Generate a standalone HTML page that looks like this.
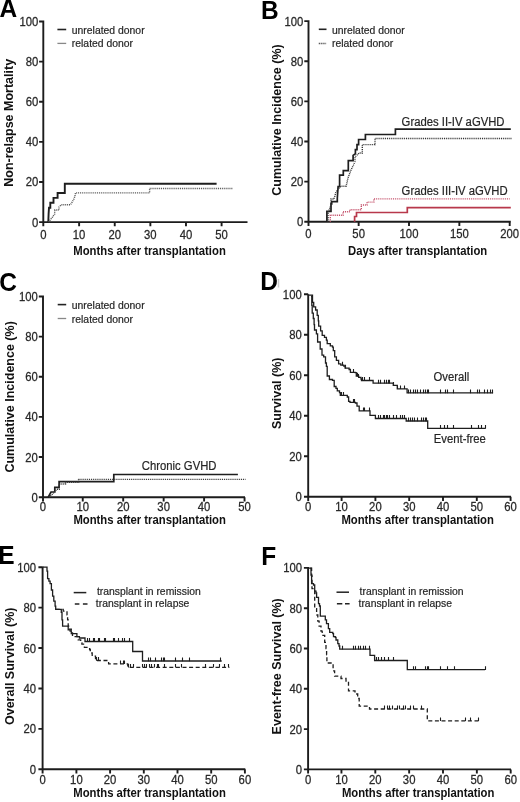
<!DOCTYPE html>
<html><head><meta charset="utf-8"><style>
html,body{margin:0;padding:0;background:#fff;}
svg{display:block;will-change:transform;}
text{font-family:"Liberation Sans", sans-serif;fill:#222;}
.pl{font-size:24.5px;font-weight:bold;fill:#000;}
.tk{font-size:11.3px;stroke:#333;stroke-width:0.25px;}
.yt{font-size:12.5px;font-weight:bold;fill:#111;}
.xt{font-size:11.3px;font-weight:bold;fill:#111;}
.lg{font-size:10.4px;stroke:#333;stroke-width:0.2px;}
.an{font-size:11.3px;stroke:#333;stroke-width:0.2px;}
</style></head><body>
<svg width="520" height="802" viewBox="0 0 520 802">
<rect width="520" height="802" fill="#fff"/>
<text transform="translate(-0.5,17) scale(1,1.055)" class="pl">A</text>
<text transform="translate(261,18.5) scale(1,1.055)" class="pl">B</text>
<text transform="translate(-0.7,291) scale(1,1.055)" class="pl">C</text>
<text transform="translate(260.3,290) scale(1,1.055)" class="pl">D</text>
<text transform="translate(-1.8,563.5) scale(1,1.055)" class="pl">E</text>
<text transform="translate(261.3,564.7) scale(1,1.055)" class="pl">F</text>
<rect x="277.8" y="279" width="1.4" height="8.5" fill="#999" opacity="0.5"/>
<path d="M43.3,20.4V226.3 M39.1,222.1H247.5 M39.1,222.1H43.3 M39.1,181.98H43.3 M39.1,141.86H43.3 M39.1,101.74H43.3 M39.1,61.62H43.3 M39.1,21.5H43.3 M43.3,222.1V226.3 M79.12,222.1V226.3 M114.74,222.1V226.3 M150.36,222.1V226.3 M185.98,222.1V226.3 M221.6,222.1V226.3" stroke="#1c1c1c" stroke-width="1.9" fill="none"/>
<text transform="translate(38.3,226.6) scale(1,1.08)" text-anchor="end" class="tk">0</text>
<text transform="translate(38.3,186.48) scale(1,1.08)" text-anchor="end" class="tk">20</text>
<text transform="translate(38.3,146.36) scale(1,1.08)" text-anchor="end" class="tk">40</text>
<text transform="translate(38.3,106.24) scale(1,1.08)" text-anchor="end" class="tk">60</text>
<text transform="translate(38.3,66.12) scale(1,1.08)" text-anchor="end" class="tk">80</text>
<text transform="translate(38.3,26) scale(1,1.08)" text-anchor="end" class="tk">100</text>
<text transform="translate(43.3,238.8) scale(1,1.08)" text-anchor="middle" class="tk">0</text>
<text transform="translate(79.12,238.8) scale(1,1.08)" text-anchor="middle" class="tk">10</text>
<text transform="translate(114.74,238.8) scale(1,1.08)" text-anchor="middle" class="tk">20</text>
<text transform="translate(150.36,238.8) scale(1,1.08)" text-anchor="middle" class="tk">30</text>
<text transform="translate(185.98,238.8) scale(1,1.08)" text-anchor="middle" class="tk">40</text>
<text transform="translate(221.6,238.8) scale(1,1.08)" text-anchor="middle" class="tk">50</text>
<text transform="translate(13,122.8) rotate(-90)" text-anchor="middle" class="yt">Non-relapse Mortality</text>
<text transform="translate(73.3,255.1) scale(1,1.06)" class="xt" textLength="152.5" lengthAdjust="spacingAndGlyphs">Months after transplantation</text>
<path d="M57.4,29.5H66.2" stroke="#222" stroke-width="1.6"/>
<path d="M57.4,43.4H66.2" stroke="#888" stroke-width="1.3"/>
<text transform="translate(71.8,33.6) scale(1,1.05)" class="lg">unrelated donor</text>
<text transform="translate(71.8,47.3) scale(1,1.05)" class="lg">related donor</text>
<path d="M48.3,222.1L48.6,214L49,207.7H50.3V202.8H53.5V197.9H57.6V193H64.8V183.8H216.6" stroke="#1e1e1e" stroke-width="1.9" fill="none"/>
<path d="M48.6,222.1L50.5,219.5L52.5,217L54.7,214V210H59V207.1L61.3,204.8H70.5L72,202.3L73.8,199.2L75,196L75.5,192.9H149.6V188.5H232.8" stroke="#555" stroke-width="1.4" stroke-dasharray="1,0.9" fill="none"/>
<path d="M308.5,20.2V225.9 M304.3,221.7H510.8 M304.3,221.7H308.5 M304.3,181.58H308.5 M304.3,141.46H308.5 M304.3,101.34H308.5 M304.3,61.22H308.5 M304.3,21.1H308.5 M308.5,221.7V225.9 M358.65,221.7V225.9 M409,221.7V225.9 M459.35,221.7V225.9 M509.7,221.7V225.9" stroke="#1c1c1c" stroke-width="1.9" fill="none"/>
<text transform="translate(303.3,226.2) scale(1,1.08)" text-anchor="end" class="tk">0</text>
<text transform="translate(303.3,186.08) scale(1,1.08)" text-anchor="end" class="tk">20</text>
<text transform="translate(303.3,145.96) scale(1,1.08)" text-anchor="end" class="tk">40</text>
<text transform="translate(303.3,105.84) scale(1,1.08)" text-anchor="end" class="tk">60</text>
<text transform="translate(303.3,65.72) scale(1,1.08)" text-anchor="end" class="tk">80</text>
<text transform="translate(303.3,25.6) scale(1,1.08)" text-anchor="end" class="tk">100</text>
<text transform="translate(308.5,238.4) scale(1,1.08)" text-anchor="middle" class="tk">0</text>
<text transform="translate(358.65,238.4) scale(1,1.08)" text-anchor="middle" class="tk">50</text>
<text transform="translate(409,238.4) scale(1,1.08)" text-anchor="middle" class="tk">100</text>
<text transform="translate(459.35,238.4) scale(1,1.08)" text-anchor="middle" class="tk">150</text>
<text transform="translate(509.7,238.4) scale(1,1.08)" text-anchor="middle" class="tk">200</text>
<text transform="translate(280.6,120) rotate(-90)" text-anchor="middle" class="yt">Cumulative Incidence (%)</text>
<text transform="translate(348,254.8) scale(1,1.06)" class="xt" textLength="139.2" lengthAdjust="spacingAndGlyphs">Days after transplantation</text>
<path d="M318.8,29.3H326.5" stroke="#222" stroke-width="1.6"/>
<path d="M318.8,43.5H326.5" stroke="#333" stroke-width="1.4" stroke-dasharray="1,0.9"/>
<text transform="translate(332,33.5) scale(1,1.05)" class="lg">unrelated donor</text>
<text transform="translate(332,47.4) scale(1,1.05)" class="lg">related donor</text>
<path d="M326.9,221.7V211.4H331V203.9H331.7V201.6H337.3V198.3L338.1,186.7H339.6V175.1H343.3V170.6H348.3V160.6H353.1V155.4L355.4,153.8V149.6H357V144.6H358.6V139.5H365.4V134.5H395.4V129.2H510.8" stroke="#1e1e1e" stroke-width="1.7" fill="none"/>
<path d="M328,221.7V213L331,205V199H334L336,192L338,189L340.8,186.2H346.2L348,178L351,170L353.5,165L355,161.5V157L359.2,153H362.3V144.6H375V138.5H512" stroke="#333" stroke-width="1.4" stroke-dasharray="1,0.9" fill="none"/>
<path d="M354.6,221.7V216.5H356.5V212.5H407.3V207.6H510.8" stroke="#b8384b" stroke-width="1.7" fill="none"/>
<path d="M330.3,221.7V215.2H343V211.7H349.8V209.8H361.3V205H367V202.1H373.8V198.9H509.7" stroke="#c4506a" stroke-width="1.4" stroke-dasharray="1,0.9" fill="none"/>
<text transform="translate(401.6,126.2) scale(1,1.05)" class="an">Grades II-IV aGVHD</text>
<text transform="translate(401.6,194.6) scale(1,1.05)" class="an">Grades III-IV aGVHD</text>
<path d="M43,295.4V501.4 M38.8,497.2H245 M38.8,497.2H43 M38.8,457.06H43 M38.8,416.92H43 M38.8,376.78H43 M38.8,336.64H43 M38.8,296.5H43 M43,497.2V501.4 M82.75,497.2V501.4 M123.2,497.2V501.4 M163.65,497.2V501.4 M204.1,497.2V501.4 M244.55,497.2V501.4" stroke="#1c1c1c" stroke-width="1.9" fill="none"/>
<text transform="translate(37.9,501.7) scale(1,1.08)" text-anchor="end" class="tk">0</text>
<text transform="translate(37.9,461.56) scale(1,1.08)" text-anchor="end" class="tk">20</text>
<text transform="translate(37.9,421.42) scale(1,1.08)" text-anchor="end" class="tk">40</text>
<text transform="translate(37.9,381.28) scale(1,1.08)" text-anchor="end" class="tk">60</text>
<text transform="translate(37.9,341.14) scale(1,1.08)" text-anchor="end" class="tk">80</text>
<text transform="translate(37.9,301) scale(1,1.08)" text-anchor="end" class="tk">100</text>
<text transform="translate(43,511.2) scale(1,1.08)" text-anchor="middle" class="tk">0</text>
<text transform="translate(82.75,511.2) scale(1,1.08)" text-anchor="middle" class="tk">10</text>
<text transform="translate(123.2,511.2) scale(1,1.08)" text-anchor="middle" class="tk">20</text>
<text transform="translate(163.65,511.2) scale(1,1.08)" text-anchor="middle" class="tk">30</text>
<text transform="translate(204.1,511.2) scale(1,1.08)" text-anchor="middle" class="tk">40</text>
<text transform="translate(244.55,511.2) scale(1,1.08)" text-anchor="middle" class="tk">50</text>
<text transform="translate(14.3,396.9) rotate(-90)" text-anchor="middle" class="yt">Cumulative Incidence (%)</text>
<text transform="translate(73.4,524.2) scale(1,1.06)" class="xt" textLength="152.5" lengthAdjust="spacingAndGlyphs">Months after transplantation</text>
<path d="M57.7,304.6H66.2" stroke="#222" stroke-width="1.6"/>
<path d="M57.7,318.5H66.2" stroke="#888" stroke-width="1.3"/>
<text transform="translate(71.8,308.7) scale(1,1.05)" class="lg">unrelated donor</text>
<text transform="translate(71.8,322.5) scale(1,1.05)" class="lg">related donor</text>
<path d="M48.2,497.2L51,492H54.8V487.3H59.1V481.7H113.8V474.5H237.9" stroke="#1e1e1e" stroke-width="1.7" fill="none"/>
<path d="M49,497.2L53.2,493.4L55,491L57,489.2H59.2V484H65.5V482.2H78.6V479.4H245.5" stroke="#333" stroke-width="1.4" stroke-dasharray="1,0.9" fill="none"/>
<text transform="translate(141.8,470) scale(1,1.05)" class="an">Chronic GVHD</text>
<path d="M308.2,294.3V501 M304,496.8H511 M304,496.8H308.2 M304,456.3H308.2 M304,415.8H308.2 M304,375.3H308.2 M304,334.8H308.2 M304,294.3H308.2 M308.2,496.8V501 M341.6,496.8V501 M375.4,496.8V501 M409.2,496.8V501 M443,496.8V501 M476.8,496.8V501 M510.6,496.8V501" stroke="#1c1c1c" stroke-width="1.9" fill="none"/>
<text transform="translate(301.7,501.3) scale(1,1.08)" text-anchor="end" class="tk">0</text>
<text transform="translate(301.7,460.8) scale(1,1.08)" text-anchor="end" class="tk">20</text>
<text transform="translate(301.7,420.3) scale(1,1.08)" text-anchor="end" class="tk">40</text>
<text transform="translate(301.7,379.8) scale(1,1.08)" text-anchor="end" class="tk">60</text>
<text transform="translate(301.7,339.3) scale(1,1.08)" text-anchor="end" class="tk">80</text>
<text transform="translate(301.7,298.8) scale(1,1.08)" text-anchor="end" class="tk">100</text>
<text transform="translate(308.2,511) scale(1,1.08)" text-anchor="middle" class="tk">0</text>
<text transform="translate(341.6,511) scale(1,1.08)" text-anchor="middle" class="tk">10</text>
<text transform="translate(375.4,511) scale(1,1.08)" text-anchor="middle" class="tk">20</text>
<text transform="translate(409.2,511) scale(1,1.08)" text-anchor="middle" class="tk">30</text>
<text transform="translate(443,511) scale(1,1.08)" text-anchor="middle" class="tk">40</text>
<text transform="translate(476.8,511) scale(1,1.08)" text-anchor="middle" class="tk">50</text>
<text transform="translate(510.6,511) scale(1,1.08)" text-anchor="middle" class="tk">60</text>
<text transform="translate(281,393.3) rotate(-90)" text-anchor="middle" class="yt">Survival (%)</text>
<text transform="translate(341.4,524.2) scale(1,1.06)" class="xt" textLength="152.5" lengthAdjust="spacingAndGlyphs">Months after transplantation</text>
<path d="M308.2,295.2H311.4V295.2H312.5V302.3H313.7V306.9H315.6V310H317.2V315.4H318.3V320.8H318.7V326.2H320.6V330.8H322.2V335.4H324.5V337.4H326.4V340.2H327.2V343.7H330.3V345.9H332.5V347.2H333.3V350.7H334.7V356.8H336.4V360.3H338.6V363.8H340.8V365.1H343.8V366H345.1V368.2H349.1V369.5H350.4V372.4H355.2V372.7H356.3V376.1H358.7V377.3H361V379H361.5V380.5H373.1V380.5H373.1V383.1H390.4V383.1H393.3V385.4H397.3V385.4H397.3V388.8H407.1V388.8H407.1V392.9H493.1V392.9" stroke="#1e1e1e" stroke-width="1.3" fill="none"/>
<path d="M311,296.2H311.8V305.4H312.2V313.1H313.3V318.5H314.1V324.6H314.5V330H316.4V333.8H317.6V342H320.2V349H322V355.1H323.7V356.8H325.5V363H326.4V366.4H327.2V376H329.4V379.5H332.5V380.4H334.2V386.5H336V388.3H337.3V390.9H339.5V392.6H340.3V395.3H345.1V395.3H347.3V397H348.6V401.4H350V402.3H355.4V403H357V406.2H359.2V410.8H370V410.8H370V415.4H375.4V415.4H375.4V418.5H406.2V418.5H406.2V421H427.7V421H427.7V428.4H485.4V428.4" stroke="#1e1e1e" stroke-width="1.3" fill="none"/>
<path d="M342.5,365.4V361.7M345.5,368.5V364.8M353.5,372.7V369M357.5,376.4V372.7M358.5,377.6V373.9M362.5,380.8V377.1M364.5,380.8V377.1M369.5,380.8V377.1M378.5,383.4V379.7M380.5,383.4V379.7M384.5,383.4V379.7M386.5,383.4V379.7M388.5,383.4V379.7M389.5,383.4V379.7M393.5,385.7V382M397.5,389.1V385.4M400.5,389.1V385.4M404.5,389.1V385.4M408.5,393.2V389.5M410.5,393.2V389.5M413.5,393.2V389.5M415.5,393.2V389.5M417.5,393.2V389.5M420.5,393.2V389.5M423.5,393.2V389.5M425.5,393.2V389.5M427.5,393.2V389.5M428.5,393.2V389.5M440.5,393.2V389.5M445.5,393.2V389.5M447.5,393.2V389.5M453.5,393.2V389.5M470.5,393.2V389.5M477.5,393.2V389.5M479.5,393.2V389.5M484.5,393.2V389.5M487.5,393.2V389.5M490.5,393.2V389.5M492.5,393.2V389.5" stroke="#1e1e1e" stroke-width="1.1" fill="none"/>
<path d="M341.5,395.6V391.9M343.5,395.6V391.9M353.5,402.6V398.9M354.5,402.6V398.9M363.5,411.1V407.4M364.5,411.1V407.4M369.5,411.1V407.4M378.5,418.8V415.1M380.5,418.8V415.1M383.5,418.8V415.1M384.5,418.8V415.1M386.5,418.8V415.1M387.5,418.8V415.1M389.5,418.8V415.1M393.5,418.8V415.1M396.5,418.8V415.1M400.5,418.8V415.1M402.5,418.8V415.1M404.5,418.8V415.1M408.5,421.3V417.6M410.5,421.3V417.6M412.5,421.3V417.6M414.5,421.3V417.6M417.5,421.3V417.6M421.5,421.3V417.6M423.5,421.3V417.6M425.5,421.3V417.6M426.5,421.3V417.6M440.5,428.7V425M444.5,428.7V425M447.5,428.7V425M453.5,428.7V425M471.5,428.7V425M478.5,428.7V425M481.5,428.7V425M485.5,428.7V425" stroke="#1e1e1e" stroke-width="1.1" fill="none"/>
<text transform="translate(433.5,380.8) scale(1,1.05)" class="an">Overall</text>
<text transform="translate(433.8,442.7) scale(1,1.05)" class="an">Event-free</text>
<path d="M42.6,566.5V773.5 M38.4,769.3H245.3 M38.4,769.3H42.6 M38.4,728.88H42.6 M38.4,688.46H42.6 M38.4,648.04H42.6 M38.4,607.62H42.6 M38.4,567.2H42.6 M42.6,769.3V773.5 M76.4,769.3V773.5 M110.1,769.3V773.5 M143.8,769.3V773.5 M177.5,769.3V773.5 M211.2,769.3V773.5 M244.9,769.3V773.5" stroke="#1c1c1c" stroke-width="1.9" fill="none"/>
<text transform="translate(36.1,773.8) scale(1,1.08)" text-anchor="end" class="tk">0</text>
<text transform="translate(36.1,733.38) scale(1,1.08)" text-anchor="end" class="tk">20</text>
<text transform="translate(36.1,692.96) scale(1,1.08)" text-anchor="end" class="tk">40</text>
<text transform="translate(36.1,652.54) scale(1,1.08)" text-anchor="end" class="tk">60</text>
<text transform="translate(36.1,612.12) scale(1,1.08)" text-anchor="end" class="tk">80</text>
<text transform="translate(36.1,571.7) scale(1,1.08)" text-anchor="end" class="tk">100</text>
<text transform="translate(42.6,783.5) scale(1,1.08)" text-anchor="middle" class="tk">0</text>
<text transform="translate(76.4,783.5) scale(1,1.08)" text-anchor="middle" class="tk">10</text>
<text transform="translate(110.1,783.5) scale(1,1.08)" text-anchor="middle" class="tk">20</text>
<text transform="translate(143.8,783.5) scale(1,1.08)" text-anchor="middle" class="tk">30</text>
<text transform="translate(177.5,783.5) scale(1,1.08)" text-anchor="middle" class="tk">40</text>
<text transform="translate(211.2,783.5) scale(1,1.08)" text-anchor="middle" class="tk">50</text>
<text transform="translate(244.9,783.5) scale(1,1.08)" text-anchor="middle" class="tk">60</text>
<text transform="translate(13.6,666.3) rotate(-90)" text-anchor="middle" class="yt">Overall Survival (%)</text>
<text transform="translate(73.3,797) scale(1,1.06)" class="xt" textLength="152.5" lengthAdjust="spacingAndGlyphs">Months after transplantation</text>
<path d="M73.7,592.6H86.3" stroke="#222" stroke-width="1.5"/>
<path d="M74.8,603.9H79.4M82.9,603.9H87.5" stroke="#222" stroke-width="1.5"/>
<text transform="translate(96.9,595.2) scale(1,1.05)" class="lg">transplant in remission</text>
<text transform="translate(95.8,607.2) scale(1,1.05)" class="lg">transplant in relapse</text>
<path d="M42.9,567.2H46.4V567.2H47V571.2H47.6V578.7H48.9V581.2H50.1V583.7H51.4V590H52.6V596.2H53.8V601.2H55.1V606.1H55.7V609.3H60.7V609.3H61.3V612.4H62V619.9H62.6V626.1H67.6V626.1H68.2V629.8H70.1V631.1H71.3V633.6H75.7V633.6H76.9V636.7H79.4V638H85V638H85V641.5H132.7V641.5H132.7V651.5H142.5V651.5H142.5V661H221.7V661" stroke="#1e1e1e" stroke-width="1.3" fill="none"/>
<path d="M55.7,609.3H63.2V611.1H67V614.9H67.6V619.9H68.2V626.1H69.4V629.2H71.3V633H72.5V636.7H75.7V636.7H78.2V639.8H80.7V642.9H81.9V644.2H84.4V647.4H88.8V647.4H89.6V649.5H90.3V653H92.2V656.2H95.5V657.6H95.5V660.5H108.6V660.5H108.6V663.8H127.8V663.8H127.8V667.3H229.4V667.3" stroke="#1e1e1e" stroke-width="1.3" stroke-dasharray="4,2.6" fill="none"/>
<path d="M87.5,641.8V638.1M89.5,641.8V638.1M93.5,641.8V638.1M94.5,641.8V638.1M98.5,641.8V638.1M99.5,641.8V638.1M104.5,641.8V638.1M105.5,641.8V638.1M113.5,641.8V638.1M114.5,641.8V638.1M118.5,641.8V638.1M122.5,641.8V638.1M124.5,641.8V638.1M129.5,641.8V638.1M148.5,661.3V657.6M150.5,661.3V657.6M155.5,661.3V657.6M161.5,661.3V657.6M163.5,661.3V657.6M164.5,661.3V657.6M175.5,661.3V657.6M182.5,661.3V657.6M189.5,661.3V657.6M220.5,661.3V657.6" stroke="#1e1e1e" stroke-width="1.1" fill="none"/>
<path d="M96.5,660.8V657.1M98.5,660.8V657.1M120.5,664.1V660.4M123.5,664.1V660.4M124.5,664.1V660.4M128.5,667.6V663.9M130.5,667.6V663.9M133.5,667.6V663.9M142.5,667.6V663.9M144.5,667.6V663.9M146.5,667.6V663.9M149.5,667.6V663.9M151.5,667.6V663.9M154.5,667.6V663.9M157.5,667.6V663.9M158.5,667.6V663.9M164.5,667.6V663.9M175.5,667.6V663.9M181.5,667.6V663.9M205.5,667.6V663.9M213.5,667.6V663.9M219.5,667.6V663.9M224.5,667.6V663.9M228.5,667.6V663.9" stroke="#1e1e1e" stroke-width="1.1" fill="none"/>
<path d="M308.1,567V773.6 M303.9,769.4H511 M303.9,769.4H308.1 M303.9,729.1H308.1 M303.9,688.8H308.1 M303.9,648.5H308.1 M303.9,608.2H308.1 M303.9,567.9H308.1 M308.1,769.4V773.6 M341.45,769.4V773.6 M375.3,769.4V773.6 M409.15,769.4V773.6 M443,769.4V773.6 M476.85,769.4V773.6 M510.7,769.4V773.6" stroke="#1c1c1c" stroke-width="1.9" fill="none"/>
<text transform="translate(302,773.9) scale(1,1.08)" text-anchor="end" class="tk">0</text>
<text transform="translate(302,733.6) scale(1,1.08)" text-anchor="end" class="tk">20</text>
<text transform="translate(302,693.3) scale(1,1.08)" text-anchor="end" class="tk">40</text>
<text transform="translate(302,653) scale(1,1.08)" text-anchor="end" class="tk">60</text>
<text transform="translate(302,612.7) scale(1,1.08)" text-anchor="end" class="tk">80</text>
<text transform="translate(302,572.4) scale(1,1.08)" text-anchor="end" class="tk">100</text>
<text transform="translate(308.1,783.5) scale(1,1.08)" text-anchor="middle" class="tk">0</text>
<text transform="translate(341.45,783.5) scale(1,1.08)" text-anchor="middle" class="tk">10</text>
<text transform="translate(375.3,783.5) scale(1,1.08)" text-anchor="middle" class="tk">20</text>
<text transform="translate(409.15,783.5) scale(1,1.08)" text-anchor="middle" class="tk">30</text>
<text transform="translate(443,783.5) scale(1,1.08)" text-anchor="middle" class="tk">40</text>
<text transform="translate(476.85,783.5) scale(1,1.08)" text-anchor="middle" class="tk">50</text>
<text transform="translate(510.7,783.5) scale(1,1.08)" text-anchor="middle" class="tk">60</text>
<text transform="translate(281,666.3) rotate(-90)" text-anchor="middle" class="yt">Event-free Survival (%)</text>
<text transform="translate(341.9,796.7) scale(1,1.06)" class="xt" textLength="152.5" lengthAdjust="spacingAndGlyphs">Months after transplantation</text>
<path d="M336.5,592.2H349" stroke="#222" stroke-width="1.5"/>
<path d="M336.9,603.8H342.3M345,603.8H349.6" stroke="#222" stroke-width="1.5"/>
<text transform="translate(359.6,595.1) scale(1,1.05)" class="lg">transplant in remission</text>
<text transform="translate(358.5,607.1) scale(1,1.05)" class="lg">transplant in relapse</text>
<path d="M308.1,568.1H310.4V568.1H311V575H311.6V583.7H313.5V585H314.7V591.2H316V593H316.6V597.4H318.5V603.7H319.5V606H320.3V608.6H320.3V616.1H324.1V616.1H325.3V619.9H326.5V623.6H328.4V628.6H329.7V632.3H332.8V633.6H333.5V636.7H335.3V637.3H336V640H337.8V643.6H339V646H339.7V649.2H370V649.2H370V655.4H374.6V655.4H374.6V660.5H407.3V660.5H407.3V669.6H485.1V669.6" stroke="#1e1e1e" stroke-width="1.3" fill="none"/>
<path d="M310.4,568.1H311.6V576H312V588.7H314.1V588.7H314.7V602.4H314.7V608.6H316.6V614.9H317.8V621.1H319.1V626.1H321V631.1H322.2V635.4H324.1V635.4H324.7V642.3H326V648.5H326.6V654.8H326.9V663H331.5V663H333.1V670.8H334.6V676.2H340V676.2H341V678.5H345.4V678.5H346V681H348.5V690.8H353.8V690.8H355V694H357.7V698.5H359.2V706.2H369.5V706.2H369.5V709H427.3V709H427.3V720.8H479.3V720.8" stroke="#1e1e1e" stroke-width="1.3" stroke-dasharray="4,2.6" fill="none"/>
<path d="M342.5,649.5V645.8M353.5,649.5V645.8M355.5,649.5V645.8M358.5,649.5V645.8M360.5,649.5V645.8M363.5,649.5V645.8M365.5,649.5V645.8M369.5,649.5V645.8M376.5,660.8V657.1M378.5,660.8V657.1M381.5,660.8V657.1M384.5,660.8V657.1M388.5,660.8V657.1M393.5,660.8V657.1M413.5,669.9V666.2M415.5,669.9V666.2M425.5,669.9V666.2M427.5,669.9V666.2M428.5,669.9V666.2M440.5,669.9V666.2M447.5,669.9V666.2M454.5,669.9V666.2M485.5,669.9V666.2" stroke="#1e1e1e" stroke-width="1.1" fill="none"/>
<path d="M384.5,709.3V705.6M387.5,709.3V705.6M389.5,709.3V705.6M392.5,709.3V705.6M397.5,709.3V705.6M399.5,709.3V705.6M403.5,709.3V705.6M405.5,709.3V705.6M410.5,709.3V705.6M413.5,709.3V705.6M421.5,709.3V705.6M440.5,721.1V717.4M465.5,721.1V717.4M470.5,721.1V717.4M478.5,721.1V717.4" stroke="#1e1e1e" stroke-width="1.1" fill="none"/>
</svg>
</body></html>
